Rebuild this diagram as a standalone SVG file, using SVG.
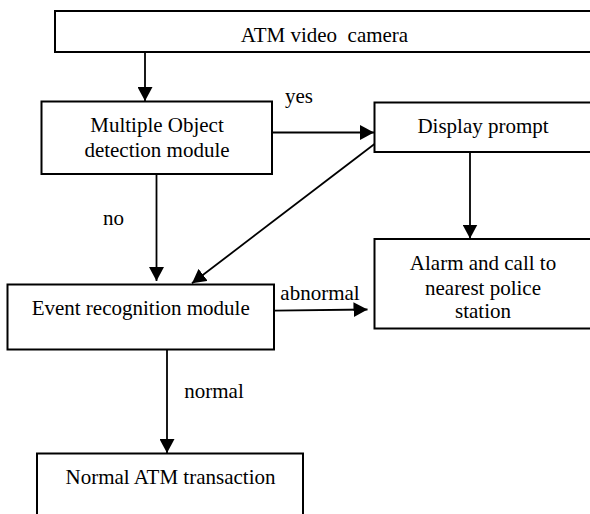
<svg xmlns="http://www.w3.org/2000/svg" width="590" height="514" viewBox="0 0 590 514">
<style>
.box{fill:#fff;stroke:#000;stroke-width:2}
.lbl{font-family:"Liberation Serif","Times New Roman",serif;font-size:21px;fill:#000;text-anchor:middle}
.edge{stroke:#000;stroke-width:1.8;fill:none;marker-end:url(#ah)}
</style>
<defs>
<marker id="ah" markerUnits="userSpaceOnUse" markerWidth="15" markerHeight="15" refX="14" refY="7.5" orient="auto">
<path d="M0,0 L14,7.5 L0,15 Z" fill="#000"/>
</marker>
</defs>
<rect width="590" height="514" fill="#fff"/>
<g id="camera">
<rect class="box" x="55" y="11" width="545" height="41"/>
<text class="lbl" x="324.5" y="41.5" xml:space="preserve">ATM video  camera</text>
</g>
<g id="mod">
<rect class="box" x="41.5" y="101.5" width="230.5" height="72.5"/>
<text class="lbl" x="157" y="131.5">Multiple Object</text>
<text class="lbl" x="157" y="156.5">detection module</text>
</g>
<g id="display">
<rect class="box" x="374.5" y="102.5" width="230" height="49.5"/>
<text class="lbl" x="483" y="133">Display prompt</text>
</g>
<g id="alarm">
<rect class="box" x="374.5" y="239" width="230" height="89.5"/>
<text class="lbl" x="483" y="270">Alarm and call to</text>
<text class="lbl" x="483" y="294.5">nearest police</text>
<text class="lbl" x="483" y="318">station</text>
</g>
<g id="erm">
<rect class="box" x="7.5" y="284.5" width="266.5" height="65"/>
<text class="lbl" x="140.7" y="315">Event recognition module</text>
</g>
<g id="nat">
<rect class="box" x="37" y="453.5" width="266" height="80"/>
<text class="lbl" x="170.5" y="483.5">Normal ATM transaction</text>
</g>
<g id="connectors">
<line class="edge" x1="145" y1="52" x2="145" y2="101"/>
<line class="edge" x1="272" y1="132.5" x2="374" y2="132.5"/>
<line class="edge" x1="374.5" y1="144" x2="192" y2="283.3"/>
<line class="edge" x1="156.5" y1="174" x2="156.5" y2="281"/>
<line class="edge" x1="470" y1="152" x2="470" y2="238.5"/>
<line class="edge" x1="274" y1="310.7" x2="367.5" y2="309.5"/>
<line class="edge" x1="167" y1="349.5" x2="167" y2="453"/>
<text class="lbl" x="299" y="103">yes</text>
<text class="lbl" x="113.5" y="225">no</text>
<text class="lbl" x="320" y="300">abnormal</text>
<text class="lbl" x="214" y="398.3">normal</text>
</g>
</svg>
